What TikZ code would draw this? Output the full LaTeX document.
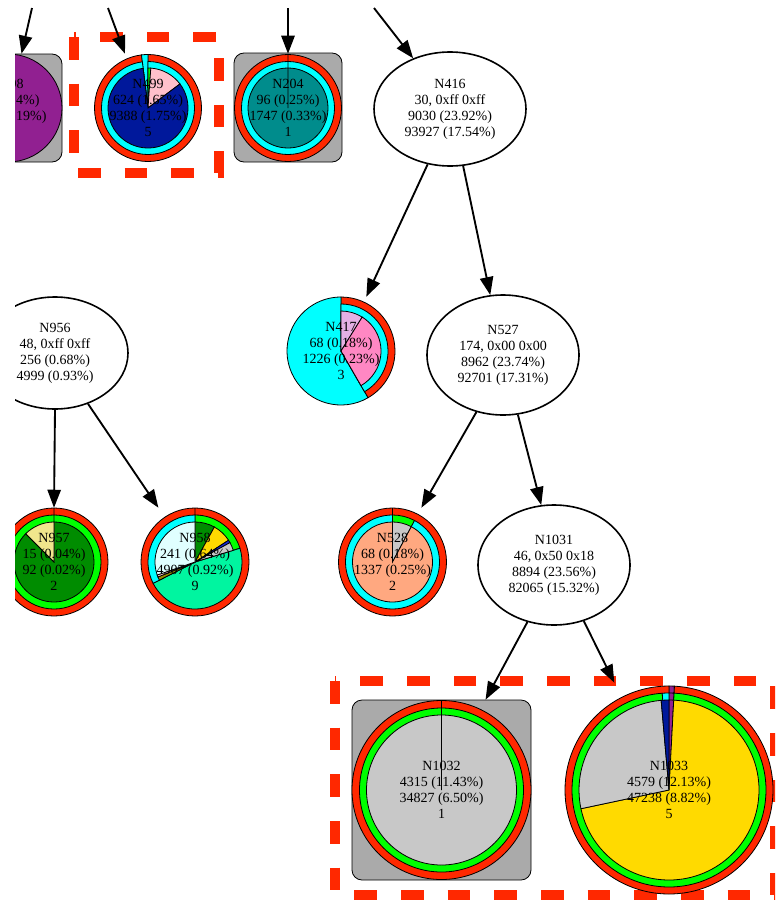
\documentclass[tikz,border=0pt]{standalone}
\usepackage{fontspec}
\setmainfont{Liberation Serif}
\usetikzlibrary{shapes.geometric,arrows.meta,positioning}

\definecolor{ringred}{RGB}{255,40,0}
\definecolor{ringcyan}{RGB}{0,255,255}
\definecolor{ringgreen}{RGB}{0,255,0}
\definecolor{navyfill}{RGB}{0,24,155}
\definecolor{pinkfill}{RGB}{255,192,203}
\definecolor{darkgreenfill}{RGB}{0,140,0}
\definecolor{tealfill}{RGB}{0,140,140}
\definecolor{purplefill}{RGB}{145,32,145}
\definecolor{backgray}{RGB}{170,170,170}
\definecolor{lilacfill}{RGB}{228,176,228}
\definecolor{hotpinkfill}{RGB}{255,135,195}
\definecolor{khakifill}{RGB}{240,230,140}
\definecolor{springfill}{RGB}{0,245,160}
\definecolor{goldfill}{RGB}{255,218,0}
\definecolor{lightcyanfill}{RGB}{224,255,255}
\definecolor{olivefill}{RGB}{150,140,0}
\definecolor{silverfill}{RGB}{200,200,200}
\definecolor{salmonfill}{RGB}{255,168,128}
\definecolor{bluefill}{RGB}{20,40,220}

\newcommand{\nodefont}{\fontsize{10.5}{12}\selectfont}
\newcommand{\drawpie}[2]{%
  \foreach \rad/\sa/\ea/\col in {#2}
    \filldraw[wedge, fill=\col] (#1) -- ++(\sa:\rad) arc[start angle=\sa, end angle=\ea, radius=\rad] -- cycle;}

\tikzstyle{edge} = [draw, line width=1.4pt, -{Triangle[length=13.5pt,width=10pt]}]
\tikzstyle{oval} = [draw, ellipse, line width=1.2pt, fill=white, inner sep=0pt,
    align=center, font=\nodefont]
\tikzstyle{piebox} = [rectangle, inner sep=0pt, align=center, font=\nodefont]
\tikzstyle{wedge} = [draw=black, line width=0.6pt]
\tikzstyle{grayback} = [draw=black, fill=backgray, rounded corners=7.5pt, line width=0.6pt]
\tikzstyle{cluster} = [draw=ringred, line width=8pt, dash pattern=on 17pt off 18pt]

\begin{document}
\begin{tikzpicture}[x=0.75pt, y=0.75pt]
  \useasboundingbox (0,0) rectangle (775,-903);
  \clip (15,0) rectangle (775,-903);
  % clusters
  \draw[cluster] (74,-37) rectangle (219,-173);
  \draw[cluster] (335,-681) rectangle (775,-895);
  % pie centres
  \coordinate (c198) at (8,-108);
  \coordinate (c499) at (148,-108);
  \coordinate (c204) at (288,-108);
  \coordinate (c417) at (341,-351);
  \coordinate (c957) at (54,-562);
  \coordinate (c958) at (195,-562);
  \coordinate (c528) at (392.5,-562);
  \coordinate (c1032) at (441.5,-790);
  \coordinate (c1033) at (669,-790);
  % backgrounds
  \draw[grayback] (-46,-54) rectangle (62,-162);
  \draw[grayback] (234,-53) rectangle (342,-162);
  \draw[grayback] (352,-700) rectangle (531,-880);
  % pies
  \drawpie{c198}{54/90/-270/purplefill}
  \drawpie{c499}{53.5/90/-263/ringred, 53.5/-263/-270/ringcyan, 46.5/90/-263/ringcyan,
    40/90/86/ringgreen, 40/86/37/pinkfill, 40/37/-263/navyfill}
  \drawpie{c204}{53.5/90/-270/ringred, 46.5/90/-270/ringcyan, 40/90/-270/tealfill}
  \drawpie{c417}{54/90/-60/ringred, 54/-60/-270/ringcyan, 47/90/-60/ringcyan,
    40/90/58/lilacfill, 40/58/-60/hotpinkfill}
  \drawpie{c957}{54/90/-270/ringred, 47/90/-270/ringgreen,
    40/90/-225/darkgreenfill, 40/-225/-270/khakifill}
  \drawpie{c958}{54/90/-270/ringred, 47/90/17/ringgreen, 47/17/-153/springfill,
    47/-153/-270/ringcyan, 40/90/61/darkgreenfill, 40/61/33/goldfill, 40/33/29/bluefill,
    40/29/17/silverfill, 40/-153/-158/olivefill, 40/-158/-161/pinkfill,
    40/-161/-270/lightcyanfill}
  \drawpie{c528}{54/90/-270/ringred, 47/90/62/ringgreen, 47/62/-270/ringcyan,
    40/90/62/silverfill, 40/62/-270/salmonfill}
  \drawpie{c1032}{89.5/90/-270/ringred, 82/90/-270/ringgreen, 75/90/-270/silverfill}
  \drawpie{c1033}{104/90/87/purplefill, 104/87/-270/ringred, 97/90/87/purplefill,
    97/87/-266/ringgreen, 97/-266/-270/ringcyan, 90/90/87/purplefill, 90/87/-168/goldfill,
    90/-168/-265/silverfill, 90/-265/-270/navyfill}
  % nodes
  \node[piebox, minimum size=81pt] (N198) at (c198) {N198\\53 (0.14\%)\\1018 (0.19\%)\\1};
  \node[piebox, minimum size=81pt] (N499) at (c499) {N499\\624 (1.65\%)\\9388 (1.75\%)\\5};
  \node[piebox, minimum size=81pt] (N204) at (c204) {N204\\96 (0.25\%)\\1747 (0.33\%)\\1};
  \node[oval, minimum width=114pt, minimum height=85.5pt] (N416) at (450,-109)
    {N416\\30, 0xff 0xff\\9030 (23.92\%)\\93927 (17.54\%)};
  \node[oval, minimum width=109.5pt, minimum height=84pt] (N956) at (55,-353)
    {N956\\48, 0xff 0xff\\256 (0.68\%)\\4999 (0.93\%)};
  \node[piebox, minimum size=81pt] (N417) at (c417) {N417\\68 (0.18\%)\\1226 (0.23\%)\\3};
  \node[oval, minimum width=114pt, minimum height=90pt] (N527) at (503,-355)
    {N527\\174, 0x00 0x00\\8962 (23.74\%)\\92701 (17.31\%)};
  \node[piebox, minimum size=81pt] (N957) at (c957) {N957\\15 (0.04\%)\\92 (0.02\%)\\2};
  \node[piebox, minimum size=81pt] (N958) at (c958) {N958\\241 (0.64\%)\\4907 (0.92\%)\\9};
  \node[piebox, minimum size=81pt] (N528) at (c528) {N528\\68 (0.18\%)\\1337 (0.25\%)\\2};
  \node[oval, minimum width=114pt, minimum height=90pt] (N1031) at (554,-565)
    {N1031\\46, 0x50 0x18\\8894 (23.56\%)\\82065 (15.32\%)};
  \node[piebox, minimum size=135pt] (N1032) at (c1032) {N1032\\4315 (11.43\%)\\34827 (6.50\%)\\1};
  \node[piebox, minimum size=160.5pt] (N1033) at (c1033) {N1033\\4579 (12.13\%)\\47238 (8.82\%)\\5};
  % edges
  \coordinate (t198) at (32,-8);
  \coordinate (t499) at (108,-8);
  \coordinate (t204) at (288,-8);
  \coordinate (t416) at (374,-8);
  \draw[edge] (t198) -- (N198.76);
  \draw[edge] (t499) -- (N499.113);
  \draw[edge] (t204) -- (N204.90);
  \draw[edge] (t416) -- (N416.126);
  \draw[edge] (N416.248) -- (N417.65);
  \draw[edge] (N416.283) -- (N527.102);
  \draw[edge] (N956.270) -- (N957.90);
  \draw[edge] (N956.303) -- (N958.124);
  \draw[edge] (N527.245) -- (N528.62);
  \draw[edge] (N527.284) -- (N1031.102);
  \draw[edge] (N1031.245) -- (N1032.64);
  \draw[edge] (N1031.298) -- (N1033.117);
\end{tikzpicture}
\end{document}
